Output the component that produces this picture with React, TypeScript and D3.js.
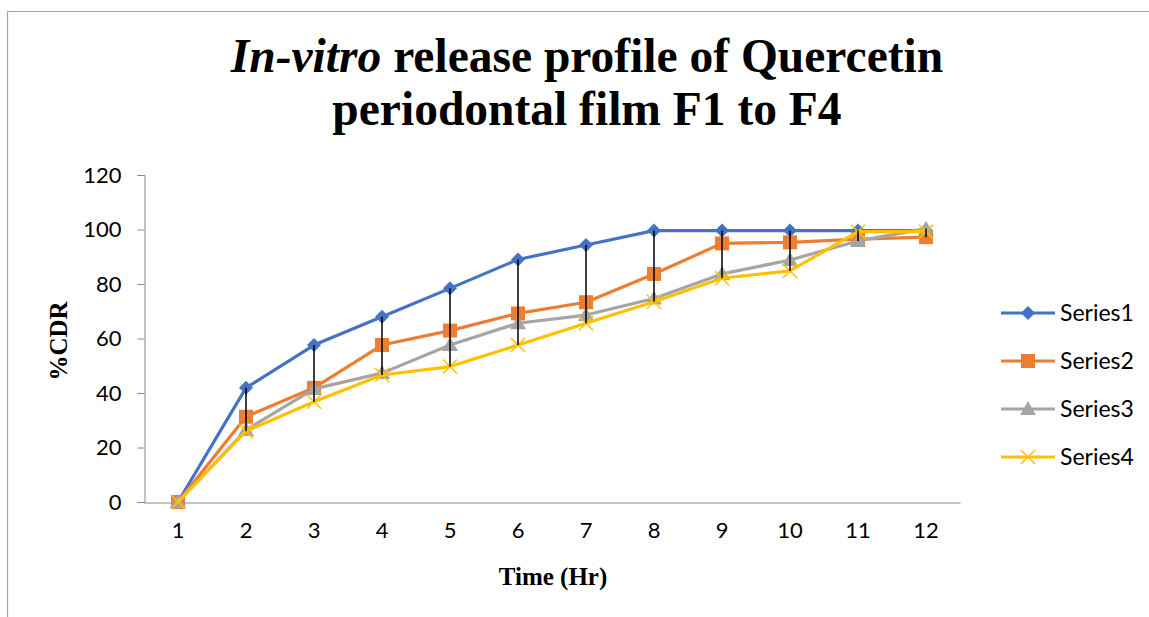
import React, { useEffect, useRef } from 'react';
import * as d3 from 'd3';

const hours = ['1', '2', '3', '4', '5', '6', '7', '8', '9', '10', '11', '12'];
const yTicks = [0, 20, 40, 60, 80, 100, 120];

const series1 = [0, 41.9, 57.6, 68.0, 78.4, 89.0, 94.3, 99.6, 99.6, 99.6, 99.6, 99.6];
const series2 = [0, 31.3, 41.9, 57.6, 62.9, 69.2, 73.3, 83.7, 94.9, 95.3, 96.5, 97.2];
const series3 = [0, 26.4, 41.5, 47.3, 57.6, 65.6, 68.6, 74.7, 83.7, 88.8, 95.8, 100.3];
const series4 = [0, 26.0, 36.8, 46.6, 49.7, 57.6, 65.6, 73.5, 82.1, 84.8, 99.2, 99.2];

const seriesNames = ['Series1', 'Series2', 'Series3', 'Series4'];
const seriesColors = ['#4472C4', '#ED7D31', '#A5A5A5', '#FFC000'];
const seriesShapes = ['diamond', 'square', 'triangle', 'cross'];

const W = 1149;
const H = 617;

const App: React.FC = () => {
  const svgRef = useRef<SVGSVGElement>(null);

  useEffect(() => {
    const svg = d3.select(svgRef.current);
    svg.selectAll('*').remove();

    const allSeries = [series1, series2, series3, series4];

    const x = d3.scaleBand().domain(hours).range([144, 960]);
    const cx = (h: string) => (x(h) as number) + x.bandwidth() / 2;
    const y = d3.scaleLinear().domain([0, 120]).range([502, 175]);

    // chart frame
    svg.append('path')
      .attr('d', `M7.5,${H} V11.5 H${W}`)
      .attr('fill', 'none')
      .attr('stroke', '#A6A6A6')
      .attr('stroke-width', 1.2);

    // title
    const title = svg.append('text')
      .attr('x', 587)
      .attr('text-anchor', 'middle')
      .attr('font-family', '"Liberation Serif", "Times New Roman", serif')
      .attr('font-weight', 'bold')
      .attr('font-size', 47.5)
      .attr('fill', '#000');
    const l1 = title.append('tspan').attr('x', 587).attr('y', 72);
    l1.append('tspan').attr('font-style', 'italic').text('In-vitro');
    l1.append('tspan').text(' release profile of Quercetin');
    title.append('tspan').attr('x', 587).attr('y', 125).text('periodontal film F1 to F4');

    // y axis
    const yAxis = svg.append('g')
      .attr('transform', 'translate(144.5,0)')
      .call(d3.axisLeft(y).tickValues(yTicks).tickSize(7).tickPadding(16));
    yAxis.select('.domain').attr('stroke', '#868686');
    yAxis.selectAll('.tick line').attr('stroke', '#868686');
    yAxis.selectAll('.tick text')
      .attr('font-family', 'Lato, "Noto Sans", sans-serif')
      .attr('font-size', 22)
      .attr('fill', '#000');

    // x axis
    const xAxis = svg.append('g')
      .attr('transform', 'translate(0,502.5)')
      .call(d3.axisBottom(x).tickSize(0).tickPadding(20).tickSizeOuter(0));
    xAxis.select('.domain').attr('stroke', '#868686');
    xAxis.selectAll('.tick text')
      .attr('font-family', 'Lato, "Noto Sans", sans-serif')
      .attr('font-size', 22)
      .attr('fill', '#000');

    // axis titles
    svg.append('text')
      .attr('x', 553)
      .attr('y', 585)
      .attr('text-anchor', 'middle')
      .attr('font-family', '"Liberation Serif", "Times New Roman", serif')
      .attr('font-weight', 'bold')
      .attr('font-size', 25)
      .text('Time (Hr)');
    svg.append('text')
      .attr('transform', 'translate(67,341) rotate(-90)')
      .attr('text-anchor', 'middle')
      .attr('font-family', '"Liberation Serif", "Times New Roman", serif')
      .attr('font-weight', 'bold')
      .attr('font-size', 25)
      .text('%CDR');

    const marker = (g: d3.Selection<SVGGElement, unknown, null, undefined>, shape: string, color: string, px: number, py: number) => {
      if (shape === 'diamond') {
        g.append('path')
          .attr('d', `M${px},${py - 7} L${px + 7},${py} L${px},${py + 7} L${px - 7},${py} Z`)
          .attr('fill', color);
      } else if (shape === 'square') {
        g.append('rect')
          .attr('x', px - 7).attr('y', py - 7)
          .attr('width', 14).attr('height', 14)
          .attr('fill', color);
      } else if (shape === 'triangle') {
        g.append('path')
          .attr('d', `M${px},${py - 8} L${px + 8},${py + 6} L${px - 8},${py + 6} Z`)
          .attr('fill', color);
      } else {
        g.append('path')
          .attr('d', `M${px - 7},${py - 7} L${px + 7},${py + 7} M${px + 7},${py - 7} L${px - 7},${py + 7}`)
          .attr('stroke', color)
          .attr('stroke-width', 1.5);
      }
    };

    const line = d3.line<number>()
      .x((_, i) => cx(hours[i]))
      .y(d => y(d));

    const plot = svg.append('g');
    allSeries.forEach((vals, si) => {
      const g = plot.append('g');
      g.append('path')
        .datum(vals)
        .attr('d', line)
        .attr('fill', 'none')
        .attr('stroke', seriesColors[si])
        .attr('stroke-width', 3.2)
        .attr('stroke-linejoin', 'round');
      vals.forEach((v, i) => marker(g as any, seriesShapes[si], seriesColors[si], cx(hours[i]), y(v)));
    });

    // high-low lines
    hours.forEach((h, i) => {
      const vals = allSeries.map(s => s[i]);
      const hi = d3.max(vals) as number;
      const lo = d3.min(vals) as number;
      if (hi - lo < 0.01) return;
      svg.append('line')
        .attr('x1', cx(h)).attr('x2', cx(h))
        .attr('y1', y(hi)).attr('y2', y(lo))
        .attr('stroke', '#000')
        .attr('stroke-width', 1.5);
    });

    // legend
    const legendY = [313, 361, 409, 457];
    seriesNames.forEach((name, si) => {
      const g = svg.append('g');
      g.append('line')
        .attr('x1', 1001).attr('x2', 1055)
        .attr('y1', legendY[si]).attr('y2', legendY[si])
        .attr('stroke', seriesColors[si])
        .attr('stroke-width', 3.2);
      marker(g as any, seriesShapes[si], seriesColors[si], 1028, legendY[si]);
      g.append('text')
        .attr('x', 1060)
        .attr('y', legendY[si])
        .attr('dy', '0.35em')
        .attr('font-family', 'Lato, "Noto Sans", sans-serif')
        .attr('font-size', 23)
        .attr('fill', '#000')
        .text(name);
    });
  }, []);

  return (
    <svg
      ref={svgRef}
      width={W}
      height={H}
      style={{ position: 'absolute', left: 0, top: 0, background: '#fff', display: 'block' }}
    />
  );
};

export default App;
